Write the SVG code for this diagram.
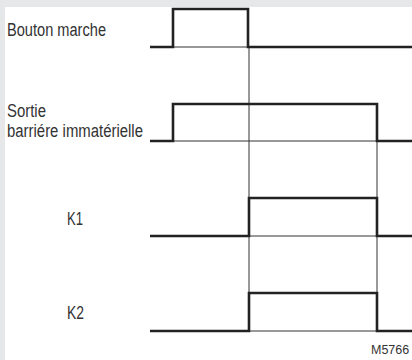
<svg xmlns="http://www.w3.org/2000/svg" width="412" height="360" viewBox="0 0 412 360">
<style>
.lbl{font-family:"Liberation Sans Narrow","Liberation Sans",Arial,sans-serif;font-size:18px;fill:#333}
.code{font-family:"Liberation Sans Narrow","Liberation Sans",Arial,sans-serif;font-size:12.5px;fill:#333}
.sig{fill:none;stroke:#222;stroke-width:2.6;stroke-linejoin:miter;stroke-linecap:butt}
.thin{fill:none;stroke:#333;stroke-width:1}
</style>
<rect x="0" y="0" width="412" height="360" fill="#e6e7e9"/>
<rect x="5" y="7" width="407" height="353" fill="#ffffff"/>
<g id="connectors">
<line class="thin" x1="249" y1="47" x2="249" y2="331"/>
<line class="thin" x1="377" y1="141" x2="377" y2="331"/>
<line class="thin" x1="173" y1="47" x2="249" y2="47"/>
<line class="thin" x1="173" y1="141" x2="377" y2="141"/>
<line class="thin" x1="249" y1="236" x2="377" y2="236"/>
<line class="thin" x1="249" y1="331" x2="377" y2="331"/>
</g>
<g id="bouton-marche">
<text class="lbl" x="7" y="36" textLength="99" lengthAdjust="spacingAndGlyphs">Bouton marche</text>
<path class="sig" d="M150,47 H173 V9 H248 V47 H412"/>
</g>
<g id="sortie-barriere">
<text class="lbl" x="7" y="116.5" textLength="39" lengthAdjust="spacingAndGlyphs">Sortie</text>
<text class="lbl" x="7" y="136.5" textLength="136" lengthAdjust="spacingAndGlyphs">barriére immatérielle</text>
<path class="sig" d="M150,141 H173 V104 H377 V141 H412"/>
</g>
<g id="k1">
<text class="lbl" x="67" y="225" textLength="16" lengthAdjust="spacingAndGlyphs">K1</text>
<path class="sig" d="M150,236 H249 V198 H377 V236 H412"/>
</g>
<g id="k2">
<text class="lbl" x="67" y="319" textLength="17" lengthAdjust="spacingAndGlyphs">K2</text>
<path class="sig" d="M150,331 H249 V293 H377 V331 H412"/>
</g>
<text class="code" x="371" y="354">M5766</text>
</svg>
